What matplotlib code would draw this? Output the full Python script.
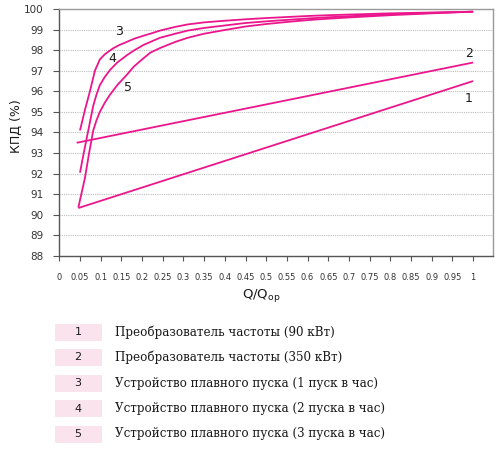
import matplotlib
matplotlib.use("Agg")
import matplotlib.pyplot as plt
from matplotlib.patches import Rectangle

# ---- data ----
q1 = [0.046, 1.0]
v1 = [90.33, 96.5]
q2 = [0.042, 1.0]
v2 = [93.5, 97.4]
q3 = [0.05, 0.062, 0.074, 0.086, 0.098, 0.11, 0.12, 0.131, 0.145, 0.163, 0.18, 0.203, 0.22, 0.243,
      0.28, 0.31, 0.35, 0.4, 0.45, 0.5, 0.55, 0.6, 0.65, 0.7, 0.8, 0.9, 1.0]
v3 = [94.1, 95.1, 96.0, 97.0, 97.55, 97.8, 97.95, 98.1, 98.25, 98.4, 98.55, 98.7, 98.8, 98.95,
      99.13, 99.25, 99.35, 99.43, 99.5, 99.56, 99.61, 99.66, 99.7, 99.73, 99.79, 99.83, 99.87]
q4 = [0.05, 0.06, 0.07, 0.082, 0.09, 0.098, 0.11, 0.123, 0.14, 0.163, 0.18, 0.203, 0.243,
      0.28, 0.31, 0.35, 0.4, 0.45, 0.5, 0.55, 0.6, 0.65, 0.7, 0.8, 0.9, 1.0]
v4 = [92.05, 93.1, 94.1, 95.3, 95.85, 96.3, 96.7, 97.05, 97.4, 97.75, 97.98, 98.25, 98.6,
      98.8, 98.95, 99.08, 99.2, 99.32, 99.4, 99.47, 99.54, 99.6, 99.65, 99.74, 99.81, 99.87]
q5 = [0.046, 0.062, 0.072, 0.082, 0.09, 0.098, 0.11, 0.123, 0.14, 0.163, 0.18, 0.203, 0.22, 0.243,
      0.28, 0.31, 0.35, 0.4, 0.45, 0.5, 0.55, 0.6, 0.65, 0.7, 0.8, 0.9, 1.0]
v5 = [90.35, 91.8, 93.0, 94.1, 94.6, 95.0, 95.45, 95.85, 96.3, 96.8, 97.2, 97.6, 97.88, 98.1,
      98.4, 98.6, 98.8, 98.98, 99.15, 99.27, 99.37, 99.46, 99.53, 99.59, 99.7, 99.79, 99.87]

curve_ids = ["1", "2", "3", "4", "5"]
curve_label_pos = [(0.99, 95.63), (0.989, 97.85), (0.144, 98.9), (0.129, 97.6), (0.167, 96.2)]
legend_texts = [
    "Преобразователь частоты (90 кВт)",
    "Преобразователь частоты (350 кВт)",
    "Устройство плавного пуска (1 пуск в час)",
    "Устройство плавного пуска (2 пуска в час)",
    "Устройство плавного пуска (3 пуска в час)",
]
xticks = [i * 0.05 for i in range(21)]
xtick_labels = ["0", "0.05", "0.1", "0.15", "0.2", "0.25", "0.3", "0.35", "0.4", "0.45", "0.5",
                "0.55", "0.6", "0.65", "0.7", "0.75", "0.8", "0.85", "0.9", "0.95", "1"]
yticks = list(range(88, 101))

color = "#ec168c"

fig = plt.figure(figsize=(5.0, 4.49), dpi=100)
W, H = 500, 449
ax = fig.add_axes([59.3 / W, 1 - 256 / H, (493 - 59.3) / W, (256 - 9) / H])

for q, v in [(q1, v1), (q2, v2), (q3, v3), (q4, v4), (q5, v5)]:
    ax.plot(q, v, color=color, lw=1.3, solid_joinstyle="round", solid_capstyle="butt")

for cid, (x, y) in zip(curve_ids, curve_label_pos):
    ax.text(x, y, cid, ha="center", va="center", fontsize=9, color="#1a1a1a")

ax.set_xlim(0, 1.048)
ax.set_ylim(88, 100)
ax.set_xticks(xticks)
ax.set_xticklabels(xtick_labels, fontsize=6, color="#333333")
ax.set_yticks(yticks)
ax.set_yticklabels([str(t) for t in yticks], fontsize=7.5, color="#333333")
ax.tick_params(axis="x", length=3.5, width=0.8, color="#555555", pad=9)
ax.tick_params(axis="y", length=4.5, width=0.8, color="#555555", pad=7)

for t in range(89, 100):
    ax.axhline(t, color="#bdbdbd", lw=0.8, ls=(0, (1, 1)), zorder=0)

for s in ["left", "bottom"]:
    ax.spines[s].set_color("#555555")
    ax.spines[s].set_linewidth(1.0)
for s in ["top", "right"]:
    ax.spines[s].set_color("#999999")
    ax.spines[s].set_linewidth(1.0)

fig.text(16 / W, 1 - 126 / H, "КПД (%)", rotation=90, ha="center", va="center",
         fontsize=9, color="#1a1a1a")
fig.text(261 / W, 1 - 296 / H, r"Q/Q$_{\mathregular{op}}$", ha="center", va="center",
         fontsize=9.5, color="#1a1a1a")

row_y = [332, 357.5, 383, 408.5, 434]
for cid, txt, ry in zip(curve_ids, legend_texts, row_y):
    fig.patches.append(Rectangle((55 / W, 1 - (ry + 8.5) / H), 47 / W, 17 / H,
                                 transform=fig.transFigure, facecolor="#fbe3ee",
                                 edgecolor="none"))
    fig.text(78 / W, 1 - ry / H, cid, ha="center", va="center", fontsize=8, color="#1a1a1a")
    fig.text(115 / W, 1 - ry / H, txt, ha="left", va="center", fontsize=8.6,
             family="DejaVu Serif", color="#1a1a1a")

fig.savefig("out.png", dpi=100)
